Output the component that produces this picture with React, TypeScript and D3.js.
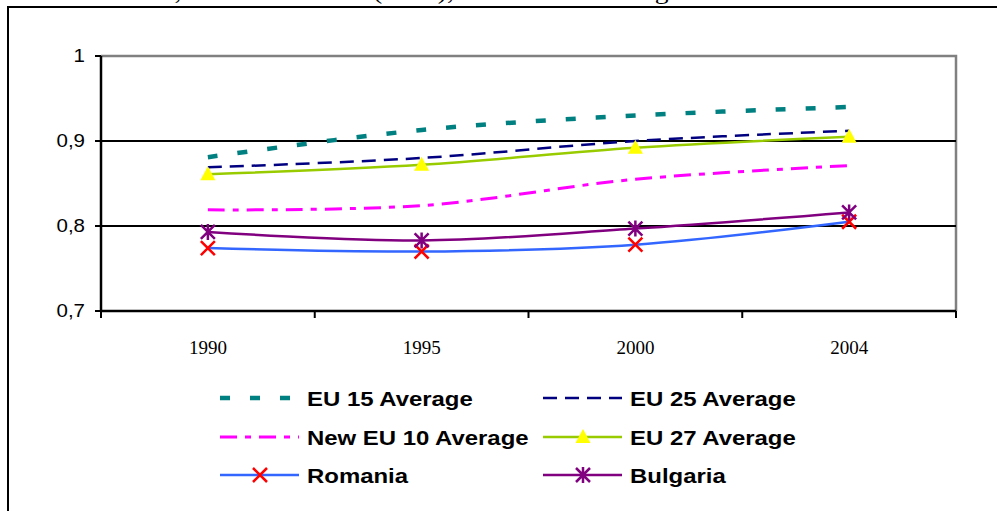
import React from "react";
import * as d3 from "d3";

const years = ["1990", "1995", "2000", "2004"];
const yTicks = [0.7, 0.8, 0.9, 1];
const gridValues = [0.8, 0.9];

const eu15 = [0.881, 0.913, 0.93, 0.94];
const eu25 = [0.869, 0.88, 0.9, 0.912];
const newEu10 = [0.819, 0.824, 0.855, 0.871];
const eu27 = [0.861, 0.872, 0.892, 0.905];
const romania = [0.774, 0.77, 0.778, 0.805];
const bulgaria = [0.793, 0.783, 0.797, 0.816];

const seriesNames = [
  "EU 15 Average",
  "EU 25 Average",
  "New EU 10 Average",
  "EU 27 Average",
  "Romania",
  "Bulgaria",
];

type Marker = "none" | "triangle" | "x" | "star";

const series = [
  { name: seriesNames[0], values: eu15, color: "#008080", width: 4.5, dash: "10,20", marker: "none" as Marker, markerColor: "" },
  { name: seriesNames[1], values: eu25, color: "#000080", width: 2.5, dash: "14,8", marker: "none" as Marker, markerColor: "" },
  { name: seriesNames[2], values: newEu10, color: "#FF00FF", width: 3, dash: "17,8,6,8", marker: "none" as Marker, markerColor: "" },
  { name: seriesNames[3], values: eu27, color: "#99CC00", width: 2.5, dash: "", marker: "triangle" as Marker, markerColor: "#FFFF00" },
  { name: seriesNames[4], values: romania, color: "#3366FF", width: 2.5, dash: "", marker: "x" as Marker, markerColor: "#FF0000" },
  { name: seriesNames[5], values: bulgaria, color: "#800080", width: 2.5, dash: "", marker: "star" as Marker, markerColor: "#800080" },
];

const W = 997;
const H = 511;
const plot = { left: 101, right: 956, top: 56, bottom: 311 };
const STRETCH = 1.14;

function MarkerShape({ type, x, y, color }: { type: Marker; x: number; y: number; color: string }) {
  if (type === "triangle") {
    return <path d={`M${x},${y - 8}L${x + 7.5},${y + 6}L${x - 7.5},${y + 6}Z`} fill={color} stroke="none" />;
  }
  if (type === "x") {
    const s = 7;
    return (
      <path d={`M${x - s},${y - s}L${x + s},${y + s}M${x - s},${y + s}L${x + s},${y - s}`} stroke={color} strokeWidth={2.5} fill="none" />
    );
  }
  if (type === "star") {
    const s = 7;
    return (
      <path
        d={`M${x - s},${y - s}L${x + s},${y + s}M${x - s},${y + s}L${x + s},${y - s}M${x},${y - s - 1}L${x},${y + s + 1}`}
        stroke={color}
        strokeWidth={2.5}
        fill="none"
      />
    );
  }
  return null;
}

export default function App() {
  const x = d3.scaleBand<string>().domain(years).range([plot.left, plot.right]);
  const y = d3.scaleLinear().domain([0.7, 1]).range([plot.bottom, plot.top]);
  const cx = (yr: string) => (x(yr) as number) + x.bandwidth() / 2;

  const line = d3
    .line<number>()
    .x((_, i) => cx(years[i]))
    .y((d) => y(d))
    .curve(d3.curveCatmullRom.alpha(0.5));

  const tickXs = [...years.map((yr) => x(yr) as number), plot.right];

  const legendCols = [220, 543];
  const legendRows = [398, 437, 475];

  return (
    <svg
      width={W}
      height={H}
      style={{ position: "absolute", left: 0, top: 0, background: "#fff" }}
      fontFamily="Liberation Sans, Arial, sans-serif"
    >
      <rect x={0} y={0} width={W} height={H} fill="#fff" />
      <text x={110} y={-1} fontFamily="Liberation Serif, Times New Roman, serif" fontSize={24} textLength={600} lengthAdjust="spacingAndGlyphs">
        EU15, and New EU 10 (2004), Romania and Bulgaria
      </text>
      {/* outer frame */}
      <path d={`M8,${H + 5}L8,7L${W + 5},7`} fill="none" stroke="#000" strokeWidth={2} />

      {/* plot border (grey) */}
      <path d={`M${plot.left},${plot.top}L${plot.right},${plot.top}L${plot.right},${plot.bottom}`} fill="none" stroke="#808080" strokeWidth={2.5} />

      {/* gridlines */}
      {gridValues.map((v) => (
        <line key={v} x1={plot.left} x2={plot.right} y1={y(v)} y2={y(v)} stroke="#000" strokeWidth={2} />
      ))}

      {/* y axis */}
      <line x1={plot.left} x2={plot.left} y1={plot.top} y2={plot.bottom} stroke="#000" strokeWidth={2.5} />
      {yTicks.map((v) => (
        <g key={v}>
          <line x1={plot.left - 6} x2={plot.left} y1={y(v)} y2={y(v)} stroke="#000" strokeWidth={2} />
          <text
            transform={`translate(${plot.left - 16},${y(v)}) scale(${STRETCH},1)`}
            dy="0.35em"
            textAnchor="end"
            fontSize={18}
          >
            {String(v).replace(".", ",")}
          </text>
        </g>
      ))}

      {/* x axis */}
      <line x1={plot.left} x2={plot.right} y1={plot.bottom} y2={plot.bottom} stroke="#000" strokeWidth={2.5} />
      {tickXs.map((t, i) => (
        <line key={i} x1={t} x2={t} y1={plot.bottom} y2={plot.bottom + 7} stroke="#000" strokeWidth={2} />
      ))}
      {years.map((yr) => (
        <text key={yr} x={cx(yr)} y={354} textAnchor="middle" fontSize={19} fontFamily="Liberation Serif, Times New Roman, serif">
          {yr}
        </text>
      ))}

      {/* series */}
      {series.map((s) => (
        <g key={s.name}>
          <path d={line(s.values) || ""} fill="none" stroke={s.color} strokeWidth={s.width} strokeDasharray={s.dash || undefined} />
          {s.values.map((v, i) => (
            <MarkerShape key={i} type={s.marker} x={cx(years[i])} y={y(v)} color={s.markerColor} />
          ))}
        </g>
      ))}

      {/* legend */}
      {series.map((s, i) => {
        const lx = legendCols[i % 2];
        const ly = legendRows[Math.floor(i / 2)];
        return (
          <g key={s.name}>
            <line x1={lx} x2={lx + 79} y1={ly} y2={ly} stroke={s.color} strokeWidth={s.width} strokeDasharray={s.dash || undefined} />
            <MarkerShape type={s.marker} x={lx + 40} y={ly} color={s.markerColor} />
            <text
              transform={`translate(${lx + 87},${ly}) scale(${STRETCH},1)`}
              dy="0.36em"
              fontSize={21}
              fontWeight="bold"
            >
              {s.name}
            </text>
          </g>
        );
      })}
    </svg>
  );
}
